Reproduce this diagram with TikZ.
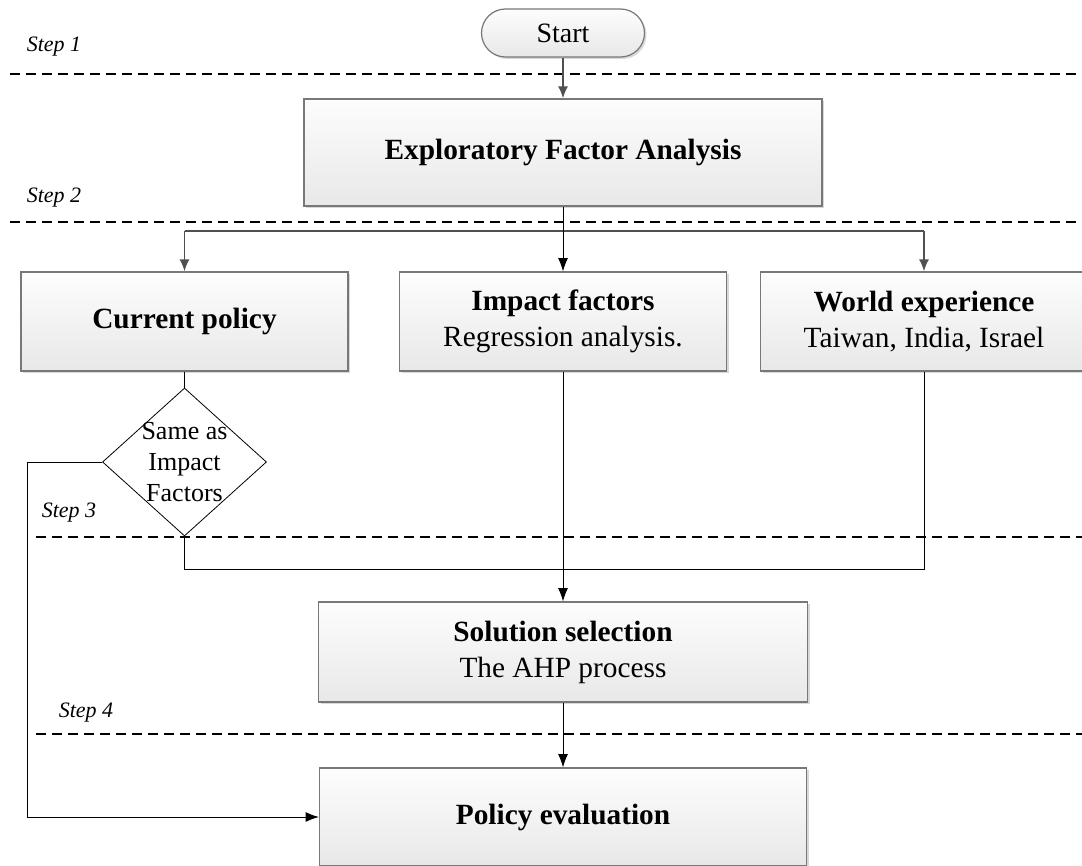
\documentclass[tikz,border=0pt]{standalone}
\usepackage{fontspec}
\setmainfont{Liberation Serif}
\usetikzlibrary{arrows.meta, positioning, shapes.geometric, shadows}

\definecolor{BoxEdge}{RGB}{120, 120, 120}
\definecolor{BoxTop}{RGB}{253, 253, 253}
\definecolor{BoxBottom}{RGB}{232, 232, 232}
\definecolor{FlowGray}{RGB}{80, 80, 80}

\begin{document}
\begin{tikzpicture}[x=0.75pt, y=-0.75pt,
    box/.style={draw=BoxEdge, line width=0.9pt, top color=BoxTop, bottom color=BoxBottom,
        drop shadow={shadow xshift=1.5pt, shadow yshift=-1.5pt, fill=black!30},
        align=center, inner sep=0pt, font=\fontsize{22}{27}\selectfont},
    rowbox/.style={box, minimum width=245.25pt, minimum height=74.25pt},
    terminal/.style={box, rounded corners=18pt, minimum width=122.25pt, minimum height=36pt,
        font=\fontsize{21}{25}\selectfont},
    decision/.style={diamond, draw=black, line width=0.6pt, minimum width=123pt, minimum height=111pt,
        inner sep=-14pt, align=center, font=\fontsize{19.5}{23}\selectfont},
    stepline/.style={black, line width=1.1pt, dash pattern=on 7.5pt off 4.5pt},
    steplabel/.style={font=\fontsize{16.5}{19}\selectfont\itshape},
    grayarrow/.style={FlowGray, line width=1.3pt, -{Latex[length=9pt, width=7.5pt]}},
    blackarrow/.style={black, line width=0.7pt, -{Latex[length=10pt, width=7.5pt]}},
    plain/.style={black, line width=0.7pt}
]
    \useasboundingbox (0,0) rectangle (1082,866);

    % Step borders
    \draw[stepline] (10,74) -- (1082,74);
    \draw[stepline] (10,222) -- (1082,222);
    \draw[stepline] (36,537) -- (1082,537);
    \draw[stepline] (36,734) -- (1082,734);

    \node[steplabel] (step1) at (54,47) {Step 1};
    \node[steplabel] (step2) at (54,198) {Step 2};
    \node[steplabel] (step3) at (69,513) {Step 3};
    \node[steplabel] (step4) at (86,713) {Step 4};

    % Boxes
    \node[terminal] (start) at (563,33) {Start};
    \node[box, minimum width=388.5pt, minimum height=80.25pt] (efa) at (563,152.5) {\textbf{Exploratory Factor Analysis}};
    \node[rowbox] (policy) at (184.5,321.5) {\textbf{Current policy}};
    \node[rowbox] (impact) at (563,321.5) {\textbf{Impact factors}\\Regression analysis.};
    \node[rowbox] (world) at (924,321.5) {\textbf{World experience}\\Taiwan, India, Israel};
    \node[decision] (same) at (184.5,462) {Same as\\Impact\\Factors};
    \node[box, minimum width=366.75pt, minimum height=75pt] (select) at (563,652) {\textbf{Solution selection}\\The AHP process};
    \node[box, minimum width=365.25pt, minimum height=73.5pt] (evaluate) at (563,817) {\textbf{Policy evaluation}};

    \coordinate (split) at (563,231);
    \coordinate (loop) at (27,462);
    \coordinate (join) at (924,569);

    % Connectors
    \draw[grayarrow] (start) -- (efa);
    \draw[FlowGray, line width=1.6pt] (policy.north |- split) -- (world.north |- split);
    \draw[grayarrow] (policy.north |- split) -- (policy.north);
    \draw[grayarrow] (world.north |- split) -- (world.north);
    \draw[blackarrow] (efa) -- (impact);
    \draw[plain] (policy) -- (same);
    \draw[blackarrow] (same.west) -- (loop) |- (evaluate.west);
    \draw[plain] (same.south) |- (join) -- (world.south);
    \draw[blackarrow] (impact) -- (select);
    \draw[blackarrow] (select) -- (evaluate);
\end{tikzpicture}
\end{document}
